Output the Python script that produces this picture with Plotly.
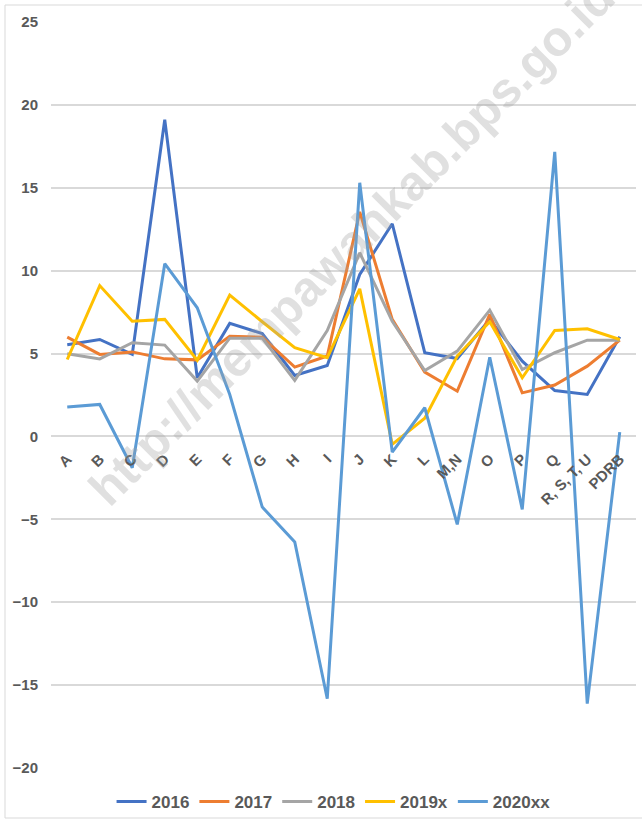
import plotly.graph_objects as go

# Sector categories
categories = ["A", "B", "C", "D", "E", "F", "G", "H", "I", "J", "K", "L",
              "M,N", "O", "P", "Q", "R, S, T, U", "PDRB"]

# Growth rates (%) per year
y2016 = [5.53, 5.85, 4.95, 19.10, 3.54, 6.82, 6.20, 3.68, 4.28, 9.77, 12.83, 5.05,
         4.70, 7.06, 4.54, 2.77, 2.53, 6.01]
y2017 = [5.99, 4.95, 5.10, 4.68, 4.62, 6.05, 5.99, 4.18, 4.85, 13.55, 7.06, 3.88,
         2.73, 7.36, 2.63, 3.10, 4.24, 5.81]
y2018 = [4.99, 4.68, 5.65, 5.51, 3.34, 5.93, 5.93, 3.38, 6.39, 11.08, 6.95, 3.98,
         5.15, 7.62, 4.04, 5.05, 5.81, 5.81]
y2019 = [4.64, 9.10, 6.95, 7.06, 4.60, 8.52, 6.92, 5.35, 4.75, 8.90, -0.48, 1.10,
         4.85, 6.92, 3.54, 6.39, 6.49, 5.85]
y2020 = [1.77, 1.93, -1.89, 10.42, 7.76, 2.53, -4.26, -6.37, -15.82, 15.30, -0.95, 1.73,
         -5.31, 4.78, -4.40, 17.17, -16.12, 0.26]

series = [
    ("2016", y2016, "#4472C4"),
    ("2017", y2017, "#ED7D31"),
    ("2018", y2018, "#A5A5A5"),
    ("2019x", y2019, "#FFC000"),
    ("2020xx", y2020, "#5B9BD5"),
]

y_ticks = [25, 20, 15, 10, 5, 0, -5, -10, -15, -20]

FONT = "Liberation Sans"
GREY = "#595959"

fig = go.Figure()
for name, vals, color in series:
    fig.add_trace(go.Scatter(
        x=categories, y=vals, name=name, mode="lines",
        line=dict(color=color, width=3),
    ))

W, H = 642, 821
ml, mr, mt, mb = 51, 6, 22, 53
pw, ph = W - ml - mr, H - mt - mb


def px_x(p):
    return (p - ml) / pw


def px_y(p):
    return (H - mb - p) / ph


fig.update_layout(
    width=W, height=H,
    margin=dict(l=ml, r=mr, t=mt, b=mb, pad=0, autoexpand=False),
    paper_bgcolor="white", plot_bgcolor="white",
    font=dict(family=FONT, color=GREY, size=15),
    showlegend=True,
    legend=dict(
        orientation="h", x=0.483, xanchor="center", y=px_y(802), yanchor="middle",
        font=dict(family=FONT, size=17, color=GREY, weight="bold"),
        itemwidth=30, bgcolor="rgba(0,0,0,0)",
    ),
    xaxis=dict(
        type="category", anchor="free", position=20 / 45,
        showgrid=False, zeroline=False, showline=False, ticks="",
        ticklabelstandoff=10,
        tickangle=-45, tickfont=dict(family=FONT, size=15, color=GREY, weight="bold"),
        range=[-0.5, len(categories) - 0.5],
    ),
    yaxis=dict(
        range=[-20, 25], tickvals=y_ticks, showgrid=True, gridcolor="#D9D9D9",
        gridwidth=1.5, zeroline=False, showline=False, ticks="",
        ticklabelstandoff=12,
        tickfont=dict(family=FONT, size=15, color=GREY, weight="bold"),
    ),
    shapes=[dict(
        type="rect", xref="paper", yref="paper",
        x0=px_x(5), x1=px_x(648), y0=px_y(818), y1=px_y(5),
        line=dict(color="#D9D9D9", width=1), fillcolor="rgba(0,0,0,0)", layer="below",
    )],
    annotations=[dict(
        text="http://mempawahkab.bps.go.id", xref="paper", yref="paper",
        x=px_x(352), y=px_y(242), xanchor="center", yanchor="middle",
        showarrow=False, textangle=-45,
        font=dict(family=FONT, size=49, color="rgba(160,160,160,0.33)", weight="bold"),
    )],
)

fig.write_html("out.html")
